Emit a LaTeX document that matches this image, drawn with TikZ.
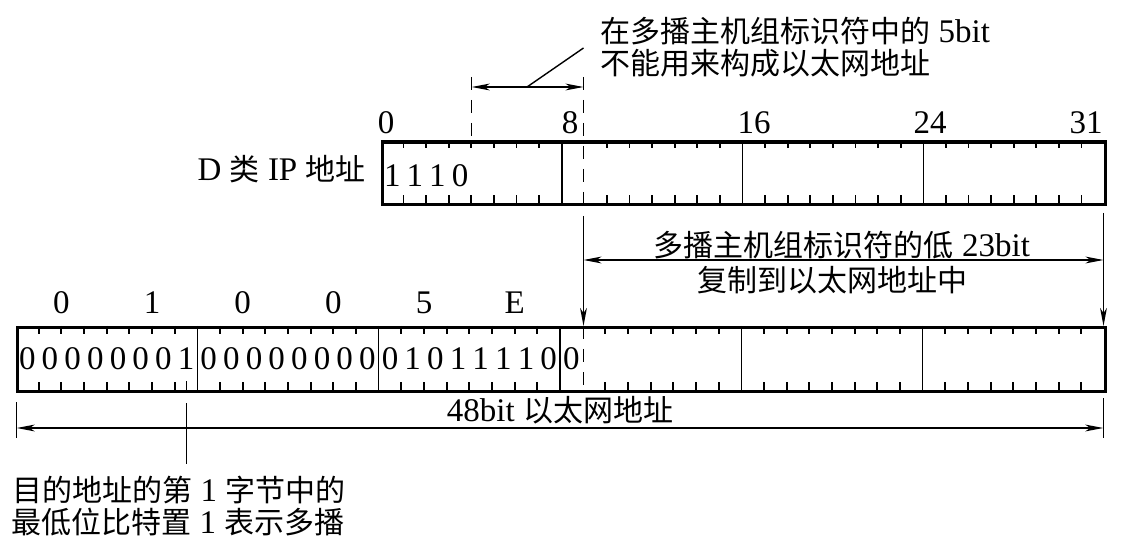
\documentclass[tikz,border=0pt]{standalone}
\usepackage{fontspec}
\setmainfont{Liberation Serif}[Scale=1.1]
\newfontfamily\cjk{Noto Sans CJK SC}
\usetikzlibrary{arrows.meta}
\begin{document}
\begin{tikzpicture}[x=0.5pt,y=-0.5pt,
  every node/.style={inner sep=0pt, font=\fontsize{15pt}{17pt}\selectfont},
  frame/.style={line width=1.6pt},
  sepline/.style={line width=0.75pt},
  tickline/.style={line width=0.9pt},
  thinline/.style={line width=0.7pt},
  dashline/.style={line width=0.75pt, dash pattern=on 6.5pt off 5pt},
  mytip/.tip={Stealth[length=9pt,width=3.4pt,inset=2.5pt]},
  oneway/.style={thinline, -mytip},
  twoway/.style={thinline, mytip-mytip}]
\useasboundingbox (0,0) rectangle (1121,551);

% ---------- IP box ----------
\foreach \i in {1,...,31}{
  \pgfmathsetmacro\xx{381+\i*22.594}
  \pgfmathtruncatemacro\m{mod(\i,8)}
  \ifnum\m=0
    \draw[sepline] (\xx,140.5) -- (\xx,203);
  \else\ifnum\i=9\else
    \draw[tickline] (\xx,140.5) -- (\xx,148.5) (\xx,203) -- (\xx,195);
  \fi\fi
}
\node[draw, frame, anchor=north west, minimum width=361.5pt, minimum height=31.25pt] (ip) at (381,140.5) {};

\foreach \b [count=\k from 0] in {1,1,1,0}{
  \node (ipb\k) at ({381+(\k+0.5)*22.594},176) {\b};
}
\node (p0) at (386,123) {0};
\node (p8) at (570,123) {8};
\node (p16) at (754,123) {16};
\node (p24) at (930,123) {24};
\node (p31) at (1086,123) {31};
\node[anchor=east] (dlab) at (366,169) {D {\cjk 类} IP {\cjk 地址}};

% ---------- Ethernet box ----------
\foreach \i in {1,...,47}{
  \pgfmathsetmacro\xx{16+\i*22.667}
  \pgfmathtruncatemacro\m{mod(\i,8)}
  \ifnum\m=0
    \draw[sepline] (\xx,326) -- (\xx,390);
  \else\ifnum\i=25\else
    \draw[tickline] (\xx,326) -- (\xx,334) (\xx,390) -- (\xx,382);
  \fi\fi
}
\node[draw, frame, anchor=north west, minimum width=544pt, minimum height=32pt] (eth) at (16,326) {};

\foreach \b [count=\k from 0] in {0,0,0,0,0,0,0,1,0,0,0,0,0,0,0,0,0,1,0,1,1,1,1,0,0}{
  \node (eb\k) at ({16+(\k+0.5)*22.667},359) {\b};
}
\foreach \h [count=\k from 0] in {0,1,0,0,5,E}{
  \node (hx\k) at ({16+(4*\k+2)*22.667},303) {\h};
}

% ---------- top annotation ----------
\node[anchor=west] (t1) at (600,31) {{\cjk 在多播主机组标识符中的} 5bit};
\node[anchor=west] (t2) at (600,63) {\cjk 不能用来构成以太网地址};
\coordinate (dLt) at (471.7,77);
\coordinate (dLb) at (471.7,140.5);
\coordinate (dRt) at (583.5,77);
\coordinate (dRb) at (583.5,214);
\coordinate (eRt) at (583.5,326);
\coordinate (eRb) at (583.5,390);
\draw[dashline] (dLt) -- (dLb);
\draw[dashline] (dRt) -- (dRb);
\draw[dashline] (eRt) -- (eRb);
\coordinate (a1) at (471.7,87);
\coordinate (a2) at (583.5,87);
\draw[twoway] (a1) -- (a2);
\coordinate (l1) at (527,87);
\coordinate (l2) at (583.5,48);
\draw[thinline] (l1) -- (l2);

% ---------- copy annotation ----------
\coordinate (c1t) at (583.5,216);
\coordinate (c2t) at (1103.5,213);
\coordinate (c2b) at (1103.5,326);
\draw[oneway] (c1t) -- (eRt);
\draw[oneway] (c2t) -- (c2b);
\coordinate (h1) at (583.5,260);
\coordinate (h2) at (1103.5,260);
\draw[twoway] (h1) -- (h2);
\node (m1) at (842,245) {{\cjk 多播主机组标识符的低} 23bit};
\node (m2) at (832,280) {\cjk 复制到以太网地址中};

% ---------- 48bit annotation ----------
\coordinate (b1t) at (16.7,402);
\coordinate (b1b) at (16.7,438);
\coordinate (b2t) at (1103.3,398);
\coordinate (b2b) at (1103.3,438);
\draw[thinline] (b1t) -- (b1b);
\draw[thinline] (b2t) -- (b2b);
\coordinate (w1) at (16.7,428);
\coordinate (w2) at (1103.3,428);
\draw[twoway] (w1) -- (w2);
\node (wl) at (560,410) {48bit {\cjk 以太网地址}};

% ---------- multicast bit marker ----------
\coordinate (k0) at (186.5,381);
\coordinate (k1) at (186.5,390);
\coordinate (k2) at (186.5,403);
\coordinate (k3) at (186.5,464);
\draw[tickline] (k0) -- (k1);
\draw[thinline] (k2) -- (k3);
\node[anchor=west] (n1) at (12,490) {{\cjk 目的地址的第} 1 {\cjk 字节中的}};
\node[anchor=west] (n2) at (11,522) {{\cjk 最低位比特置} 1 {\cjk 表示多播}};
\end{tikzpicture}
\end{document}
